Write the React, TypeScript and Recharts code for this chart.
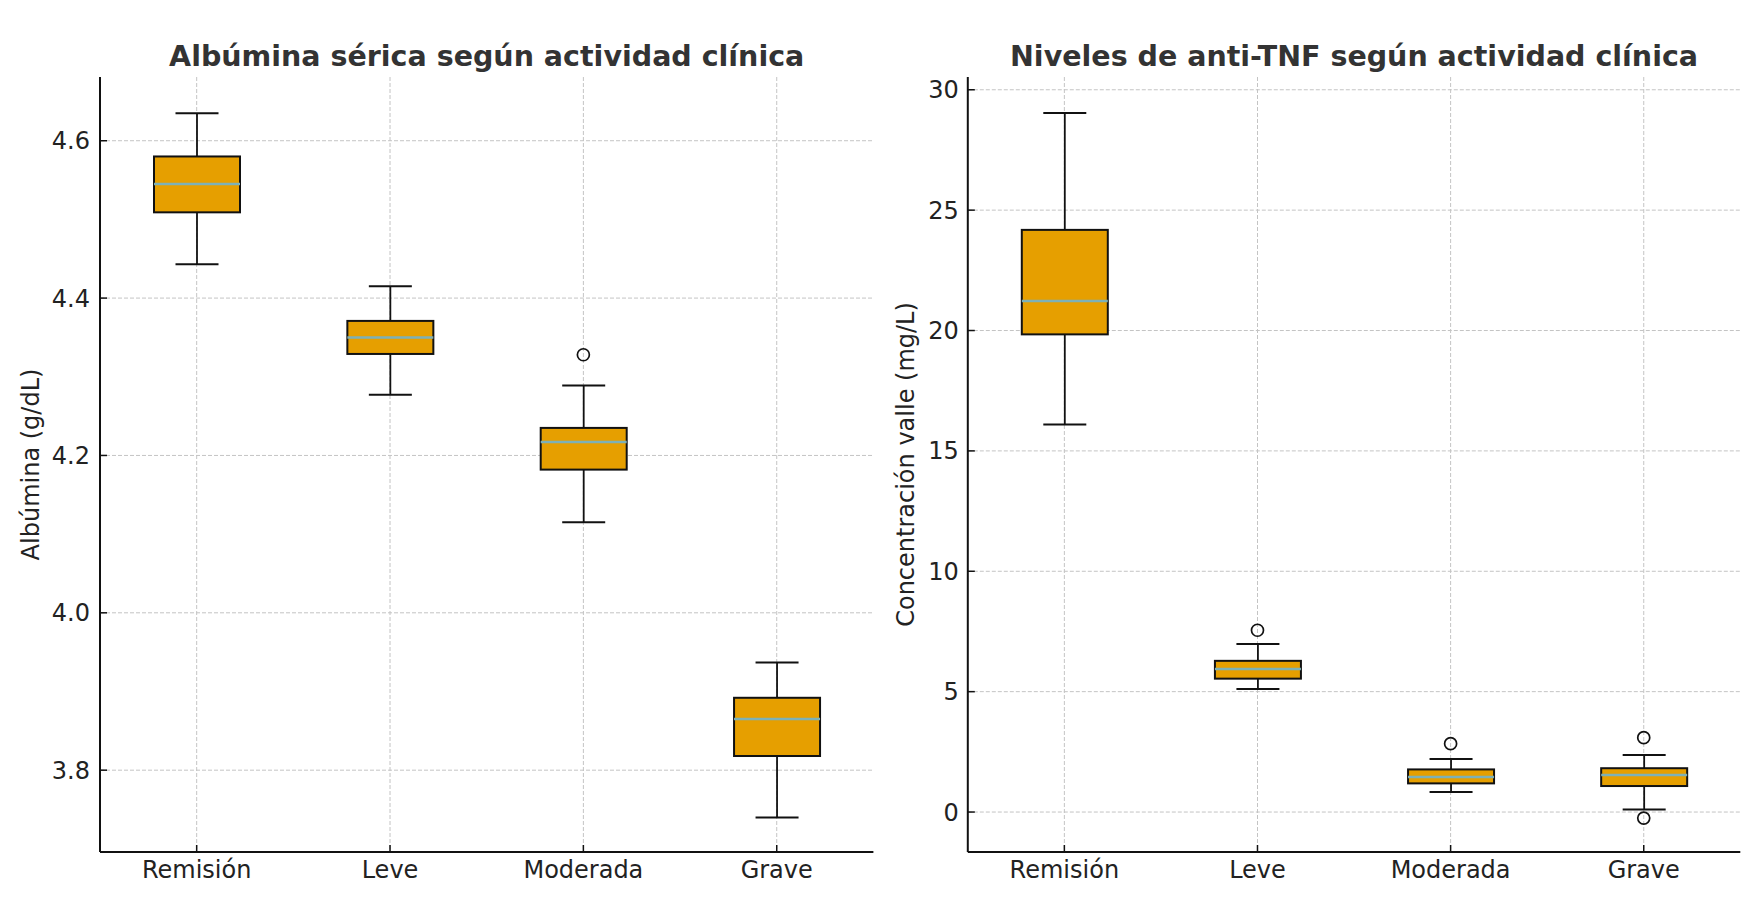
import React from "react";
import {
  Bar,
  CartesianGrid,
  ComposedChart,
  Label,
  Scatter,
  XAxis,
  YAxis,
} from "recharts";

const CATEGORIES = ["Remisión", "Leve", "Moderada", "Grave"];

// Albúmina sérica (g/dL)
const ALB_MIN = [4.443, 4.277, 4.115, 3.74];
const ALB_Q1 = [4.509, 4.329, 4.182, 3.818];
const ALB_MEDIAN = [4.545, 4.35, 4.217, 3.865];
const ALB_Q3 = [4.58, 4.371, 4.235, 3.892];
const ALB_MAX = [4.635, 4.415, 4.289, 3.937];
const ALB_OUTLIERS = [{ cat: "Moderada", value: 4.328 }];
const ALB_TICKS = [3.8, 4.0, 4.2, 4.4, 4.6];

// anti-TNF, concentración valle (mg/L)
const TNF_MIN = [16.1, 5.11, 0.83, 0.11];
const TNF_Q1 = [19.84, 5.54, 1.19, 1.08];
const TNF_MEDIAN = [21.23, 5.94, 1.45, 1.54];
const TNF_Q3 = [24.18, 6.28, 1.77, 1.82];
const TNF_MAX = [29.03, 6.98, 2.2, 2.37];
const TNF_OUTLIERS = [
  { cat: "Leve", value: 7.55 },
  { cat: "Moderada", value: 2.84 },
  { cat: "Grave", value: 3.09 },
  { cat: "Grave", value: -0.25 },
];
const TNF_TICKS = [0, 5, 10, 15, 20, 25, 30];

const FONT = "'DejaVu Sans', sans-serif";
const INK = "#111";
const FILL = "#E69F00";
const MEDIAN = "#7DB1B7";
const GRID = "#c4c4c4";

type Row = { cat: string; min: number; q1: number; median: number; q3: number; max: number };

const buildRows = (mn: number[], q1: number[], md: number[], q3: number[], mx: number[]): Row[] =>
  CATEGORIES.map((cat, i) => ({ cat, min: mn[i], q1: q1[i], median: md[i], q3: q3[i], max: mx[i] }));

const albRows = buildRows(ALB_MIN, ALB_Q1, ALB_MEDIAN, ALB_Q3, ALB_MAX);
const tnfRows = buildRows(TNF_MIN, TNF_Q1, TNF_MEDIAN, TNF_Q3, TNF_MAX);

// the bar spans min..max (placed by the y scale); the box parts are mapped inside it
function BoxShape(props: any) {
  const { x, y, width, height, payload } = props;
  const { min, q1, median, q3, max } = payload as Row;
  const per = max > min ? height / (max - min) : 0;
  const yOf = (v: number) => y + (max - v) * per;
  const cx = x + width / 2;
  const cap = width / 4;
  return (
    <g>
      <line x1={cx} x2={cx} y1={yOf(max)} y2={yOf(q3)} stroke={INK} strokeWidth={1.8} />
      <line x1={cx} x2={cx} y1={yOf(q1)} y2={yOf(min)} stroke={INK} strokeWidth={1.8} />
      <line x1={cx - cap} x2={cx + cap} y1={yOf(max)} y2={yOf(max)} stroke={INK} strokeWidth={2} />
      <line x1={cx - cap} x2={cx + cap} y1={yOf(min)} y2={yOf(min)} stroke={INK} strokeWidth={2} />
      <rect x={x} y={yOf(q3)} width={width} height={yOf(q1) - yOf(q3)} fill={FILL} stroke={INK} strokeWidth={2} />
      <line x1={x} x2={x + width} y1={yOf(median)} y2={yOf(median)} stroke={MEDIAN} strokeWidth={2.5} />
    </g>
  );
}

const Flier = (p: any) => <circle cx={p.cx} cy={p.cy} r={6} fill="none" stroke={INK} strokeWidth={1.7} />;

function Panel({
  rows,
  outliers,
  domain,
  ticks,
  yLabel,
  title,
  left,
  width,
  axisWidth,
  marginRight,
  labelX,
  gap,
  digits,
}: {
  rows: Row[];
  outliers: { cat: string; value: number }[];
  domain: [number, number];
  ticks: number[];
  yLabel: string;
  title: string;
  left: number;
  width: number;
  axisWidth: number;
  marginRight: number;
  labelX: number;
  gap: number;
  digits: number;
}) {
  const plotCenter = axisWidth + (width - axisWidth - marginRight) / 2;
  return (
    <div style={{ position: "absolute", left, top: 0, width, height: 924 }}>
      <svg width={width} height={80} style={{ position: "absolute", left: 0, top: 0 }}>
        <text x={plotCenter} y={65.5} textAnchor="middle" fontSize={28.5} fontWeight="bold" fill="#333" fontFamily={FONT}>
          {title}
        </text>
      </svg>
      <ComposedChart
        width={width}
        height={924}
        data={rows}
        margin={{ top: 77, right: marginRight, bottom: 32, left: 0 }}
        style={{ position: "absolute", left: 0, top: 0 }}
      >
        <CartesianGrid stroke={GRID} strokeDasharray="4 2" strokeWidth={1} syncWithTicks />
        <XAxis
          dataKey="cat"
          type="category"
          allowDuplicatedCategory={false}
          height={40}
          tickSize={-7}
          tickMargin={16}
          axisLine={{ stroke: INK, strokeWidth: 2 }}
          tickLine={{ stroke: INK, strokeWidth: 1.5 }}
          tick={{ fontSize: 24, fill: "#222", fontFamily: FONT }}
        />
        <YAxis
          type="number"
          domain={domain}
          ticks={ticks}
          width={axisWidth}
          allowDataOverflow
          tickSize={-7}
          tickMargin={7 + gap}
          tickFormatter={(v: number) => v.toFixed(digits)}
          axisLine={{ stroke: INK, strokeWidth: 2 }}
          tickLine={{ stroke: INK, strokeWidth: 1.5 }}
          tick={{ fontSize: 24, fill: "#222", fontFamily: FONT }}
        >
          <Label
            content={(p: any) => {
              const vb = p.viewBox || {};
              const cy = vb.y + vb.height / 2;
              return (
                <text
                  x={labelX}
                  y={cy}
                  transform={`rotate(-90 ${labelX} ${cy})`}
                  textAnchor="middle"
                  fontSize={24}
                  fill="#222"
                  fontFamily={FONT}
                >
                  {yLabel}
                </text>
              );
            }}
          />
        </YAxis>
        <Bar dataKey={(d: Row) => [d.min, d.max]} barSize={86} shape={BoxShape} isAnimationActive={false} />
        <Scatter data={outliers} dataKey="value" shape={Flier} isAnimationActive={false} />
      </ComposedChart>
    </div>
  );
}

export default function App() {
  return (
    <div style={{ position: "relative", width: 1756, height: 924, background: "#fff", fontFamily: FONT }}>
      <style>{"body{margin:0}"}</style>
      <Panel
        rows={albRows}
        outliers={ALB_OUTLIERS}
        domain={[3.696, 4.681]}
        ticks={ALB_TICKS}
        yLabel="Albúmina (g/dL)"
        title="Albúmina sérica según actividad clínica"
        left={0}
        width={878}
        axisWidth={100}
        marginRight={4.6}
        labelX={39}
        gap={10}
        digits={1}
      />
      <Panel
        rows={tnfRows}
        outliers={TNF_OUTLIERS}
        domain={[-1.66, 30.53]}
        ticks={TNF_TICKS}
        yLabel="Concentración valle (mg/L)"
        title="Niveles de anti-TNF según actividad clínica"
        left={878}
        width={878}
        axisWidth={89.8}
        marginRight={15.7}
        labelX={36}
        gap={9}
        digits={0}
      />
    </div>
  );
}
